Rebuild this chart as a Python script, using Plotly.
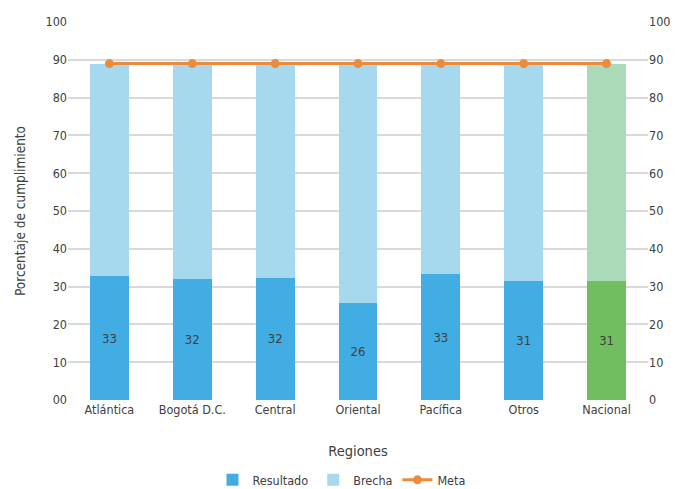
import plotly.graph_objects as go

regiones = ["Atlántica", "Bogotá D.C.", "Central", "Oriental", "Pacífica", "Otros", "Nacional"]
resultado = [32.8, 32.0, 32.3, 25.6, 33.3, 31.5, 31.5]
etiquetas = ["33", "32", "32", "26", "33", "31", "31"]
meta = [89, 89, 89, 89, 89, 89, 89]
brecha = [m - r for m, r in zip(meta, resultado)]
ticks_vals = [0, 10, 20, 30, 40, 50, 60, 70, 80, 90, 100]
ticks_left = ["00", "10", "20", "30", "40", "50", "60", "70", "80", "90", "100"]
ticks_right = ["0", "10", "20", "30", "40", "50", "60", "70", "80", "90", "100"]

BLUE, LBLUE = "#42ADE3", "#A6D8EE"
GREEN, LGREEN = "#70BE60", "#ABDAB9"
ORANGE = "#ED8B3D"
TXT = "#404040"
FONT = "DejaVu Sans Condensed, Liberation Sans Narrow, Roboto Condensed, Roboto, sans-serif"

col_res = [GREEN if r == "Nacional" else BLUE for r in regiones]
col_bre = [LGREEN if r == "Nacional" else LBLUE for r in regiones]

fig = go.Figure()
fig.add_trace(go.Bar(
    x=regiones, y=resultado, name="Resultado",
    marker=dict(color=col_res, line=dict(width=0)),
    text=etiquetas, textposition="inside", insidetextanchor="middle",
    textfont=dict(color=TXT, size=13, family=FONT),
    textangle=0,
))
fig.add_trace(go.Bar(
    x=regiones, y=brecha, name="Brecha",
    marker=dict(color=col_bre, line=dict(width=0)),
    hoverinfo="skip",
))
fig.add_trace(go.Scatter(
    x=regiones, y=meta, name="Meta", mode="lines+markers",
    line=dict(color=ORANGE, width=3),
    marker=dict(color=ORANGE, size=9),
))
fig.add_trace(go.Scatter(
    x=regiones, y=meta, yaxis="y2", mode="lines",
    line=dict(width=0), showlegend=False, hoverinfo="skip", opacity=0,
))

fig.update_layout(
    barmode="stack",
    bargap=0.53,
    width=683, height=489,
    margin=dict(l=68, r=35, t=22, b=89, autoexpand=False),
    paper_bgcolor="white", plot_bgcolor="white",
    font=dict(family=FONT, color=TXT, size=12.5),
    showlegend=True,
    legend=dict(orientation="h", x=0.5, xanchor="center", xref="container",
                y=0.018, yanchor="middle", yref="container",
                font=dict(size=12.5, color=TXT), traceorder="normal"),
    xaxis=dict(
        title=dict(text="Regiones", font=dict(size=14.5, color=TXT), standoff=30),
        showgrid=False, ticks="", showline=False, tickfont=dict(size=12.5, color=TXT),
        automargin=False,
    ),
    yaxis=dict(
        title=dict(text="Porcentaje de cumplimiento", font=dict(size=13.5, color=TXT), standoff=16),
        range=[0, 100], tickvals=ticks_vals, ticktext=ticks_left,
        showgrid=True, gridcolor="#D9D9D9", gridwidth=2,
        zeroline=False, ticks="", showline=False, tickfont=dict(size=12.5, color=TXT),
        automargin=False,
    ),
    yaxis2=dict(
        overlaying="y", side="right", range=[0, 100],
        tickvals=ticks_vals, ticktext=ticks_right,
        showgrid=False, zeroline=False, ticks="", showline=False,
        tickfont=dict(size=12.5, color=TXT), automargin=False,
    ),
)

fig.write_html("out.html")
